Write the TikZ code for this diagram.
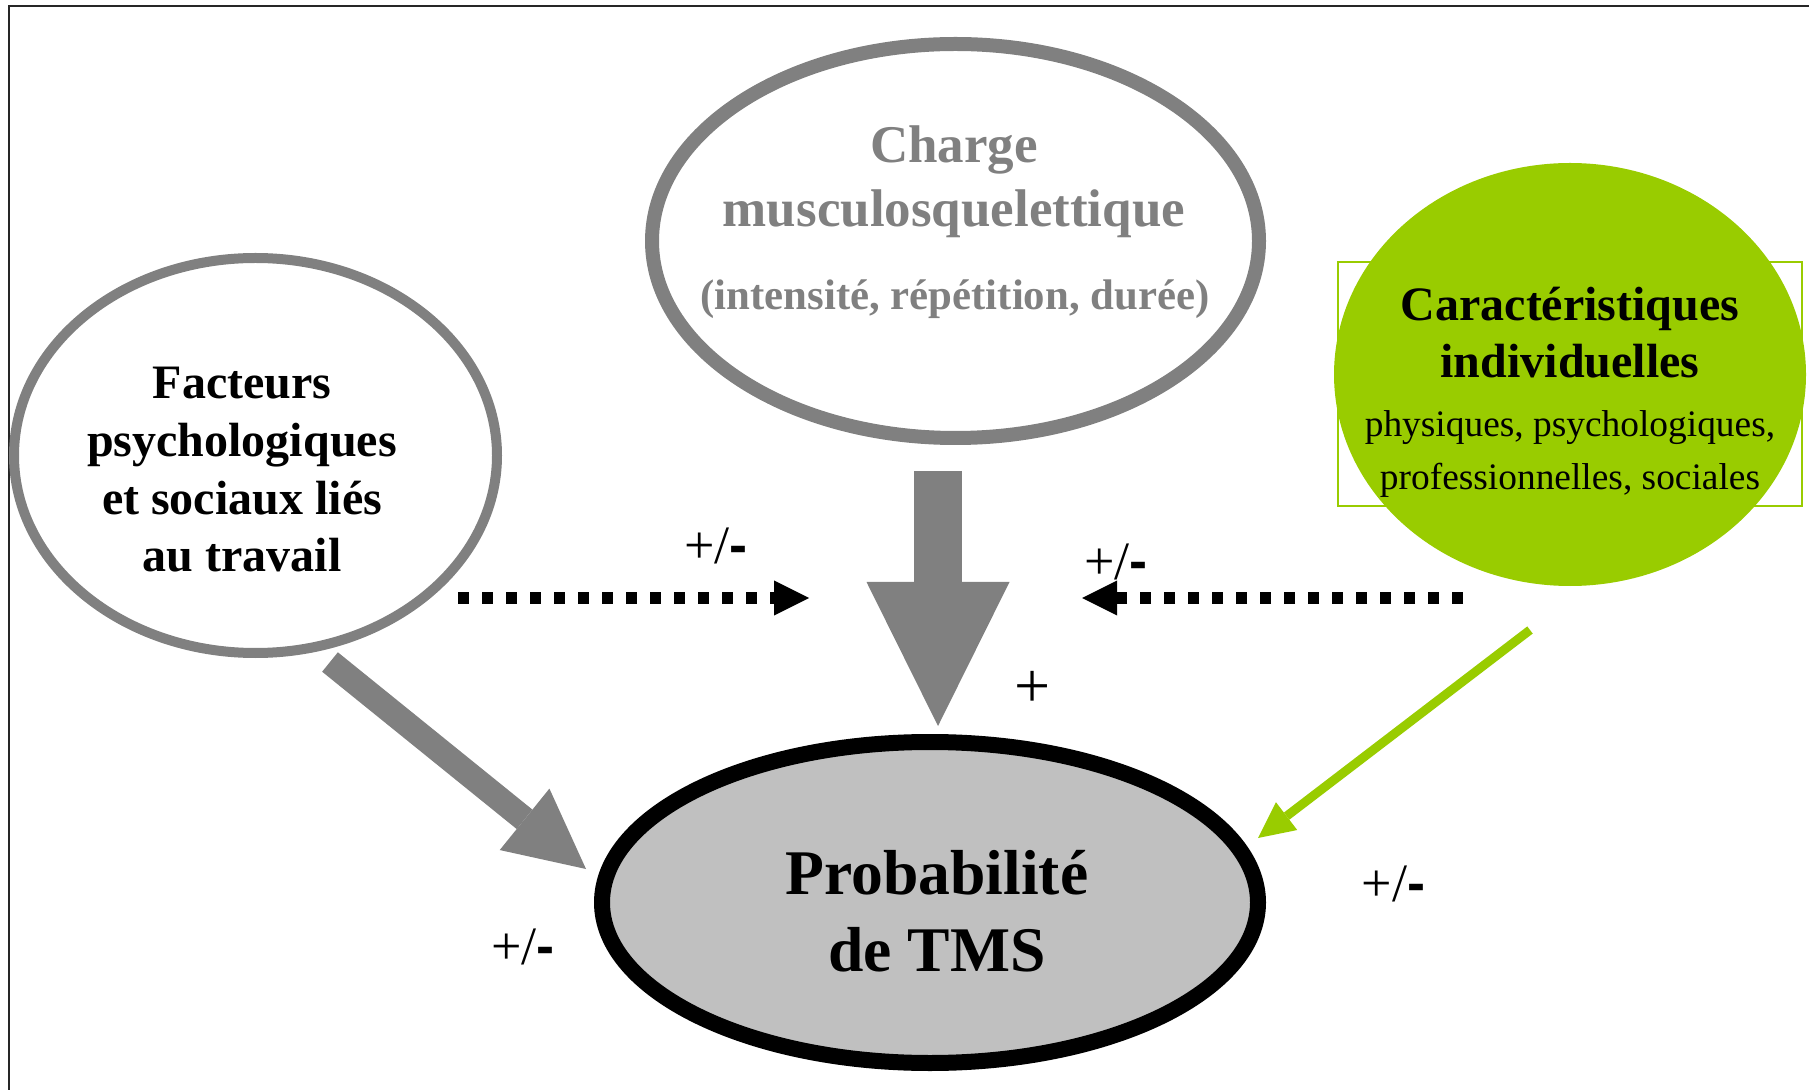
\documentclass[tikz,border=0pt]{standalone}
\usepackage{fontspec}
\setmainfont{Liberation Serif}
\newfontfamily\sansf{Liberation Sans}
\usetikzlibrary{shapes.geometric,arrows.meta}
\definecolor{tgray}{HTML}{808080}
\definecolor{tgreen}{HTML}{99CC00}
\definecolor{tlight}{HTML}{C0C0C0}
\begin{document}
\begin{tikzpicture}[x=0.5pt,y=-0.5pt,
  txt/.style={inner sep=0pt,outer sep=0pt,anchor=base},
  chargetxt/.style={txt,text=tgray,font=\fontsize{26.5pt}{30pt}\selectfont\bfseries},
  chargesub/.style={txt,text=tgray,font=\fontsize{21.4pt}{25pt}\selectfont\bfseries},
  factxt/.style={txt,font=\fontsize{24pt}{28pt}\selectfont\bfseries},
  cartxt/.style={txt,font=\fontsize{18.7pt}{22pt}\selectfont},
  probtxt/.style={txt,font=\fontsize{31.8pt}{36pt}\selectfont\bfseries},
  pmtxt/.style={txt,font=\fontsize{27pt}{30pt}\selectfont},
  oval/.style={ellipse,inner sep=0pt,outer sep=0pt},
  dotarrow/.style={line width=6pt,dash pattern=on 5.5pt off 6.5pt,
    -{Triangle[length=17.5pt,width=17.5pt,line width=0pt]}},
]
\useasboundingbox (0,0) rectangle (1809,1090);
% frame
\draw[line width=1.2pt,black!85] (9,1095) -- (9,6) -- (1815,6);

% green text box behind ellipse
\draw[tgreen,line width=1pt] (1338,262) rectangle (1802,506);

% ellipses
\node[oval,draw=tgray,line width=7pt,minimum width=303.5pt,minimum height=197pt] (charge) at (955.5,241) {};
\node[oval,draw=tgray,line width=5pt,minimum width=241.5pt,minimum height=197.5pt] (fac) at (255.5,455.5) {};
\node[oval,fill=tgreen,minimum width=236pt,minimum height=211.5pt] (car) at (1570,374.5) {};
\node[oval,draw=black,fill=tlight,line width=8pt,minimum width=328pt,minimum height=160.5pt] (prob) at (930,902.5) {};

% texts
\node[chargetxt] (ch1) at (954,163) {Charge};
\node[chargetxt] (ch2) at (954,227) {musculosquelettique};
\node[chargesub] (ch3) at (955,310) {(intensité, répétition, durée)};

\node[factxt] (f1) at (242,399) {Facteurs};
\node[factxt] (f2) at (242,457) {psychologiques};
\node[factxt] (f3) at (242,515) {et sociaux liés};
\node[factxt] (f4) at (242,572) {au travail};

\node[factxt] (c1) at (1570,321) {Caractéristiques};
\node[factxt] (c2) at (1570,378) {individuelles};
\node[cartxt] (c3) at (1570,437) {physiques, psychologiques,};
\node[cartxt] (c4) at (1570,490) {professionnelles, sociales};

\node[probtxt] (p1) at (937,894) {Probabilité};
\node[probtxt] (p2) at (937,971) {de TMS};

% arrow end points
\coordinate (bigS) at (938,471);
\coordinate (bigE) at (938,726);
\coordinate (facS) at (330,662);
\coordinate (facE) at (586,869);
\coordinate (grS) at (1530,630);
\coordinate (grE) at (1258,838);
\coordinate (dlS) at (458,598);
\coordinate (dlE) at (809,598);
\coordinate (drS) at (1463,598);
\coordinate (drE) at (1082,598);

% arrows
\draw[tgray,line width=24pt,-{Triangle[length=72pt,width=71.5pt,line width=0pt]}] (bigS) -- (bigE);
\draw[tgray,line width=12.5pt,-{Triangle[length=39.5pt,width=39.5pt,line width=0pt]}] (facS) -- (facE);
\draw[tgreen,line width=4.5pt,-{Triangle[length=18pt,width=17.5pt,line width=0pt]}] (grS) -- (grE);
\draw[dotarrow] (dlS) -- (dlE);
\draw[dotarrow] (drS) -- (drE);

% labels
\node[pmtxt] (l1) at (716,564) {+/{\sansf\bfseries -}};
\node[pmtxt] (l2) at (1116,580) {+/{\sansf\bfseries -}};
\node[txt,font=\fontsize{32pt}{36pt}\selectfont] (l3) at (1033,707) {+};
\node[pmtxt] (l4) at (523,964) {+/{\sansf\bfseries -}};
\node[pmtxt] (l5) at (1393.5,901) {+/{\sansf\bfseries -}};
\end{tikzpicture}
\end{document}
